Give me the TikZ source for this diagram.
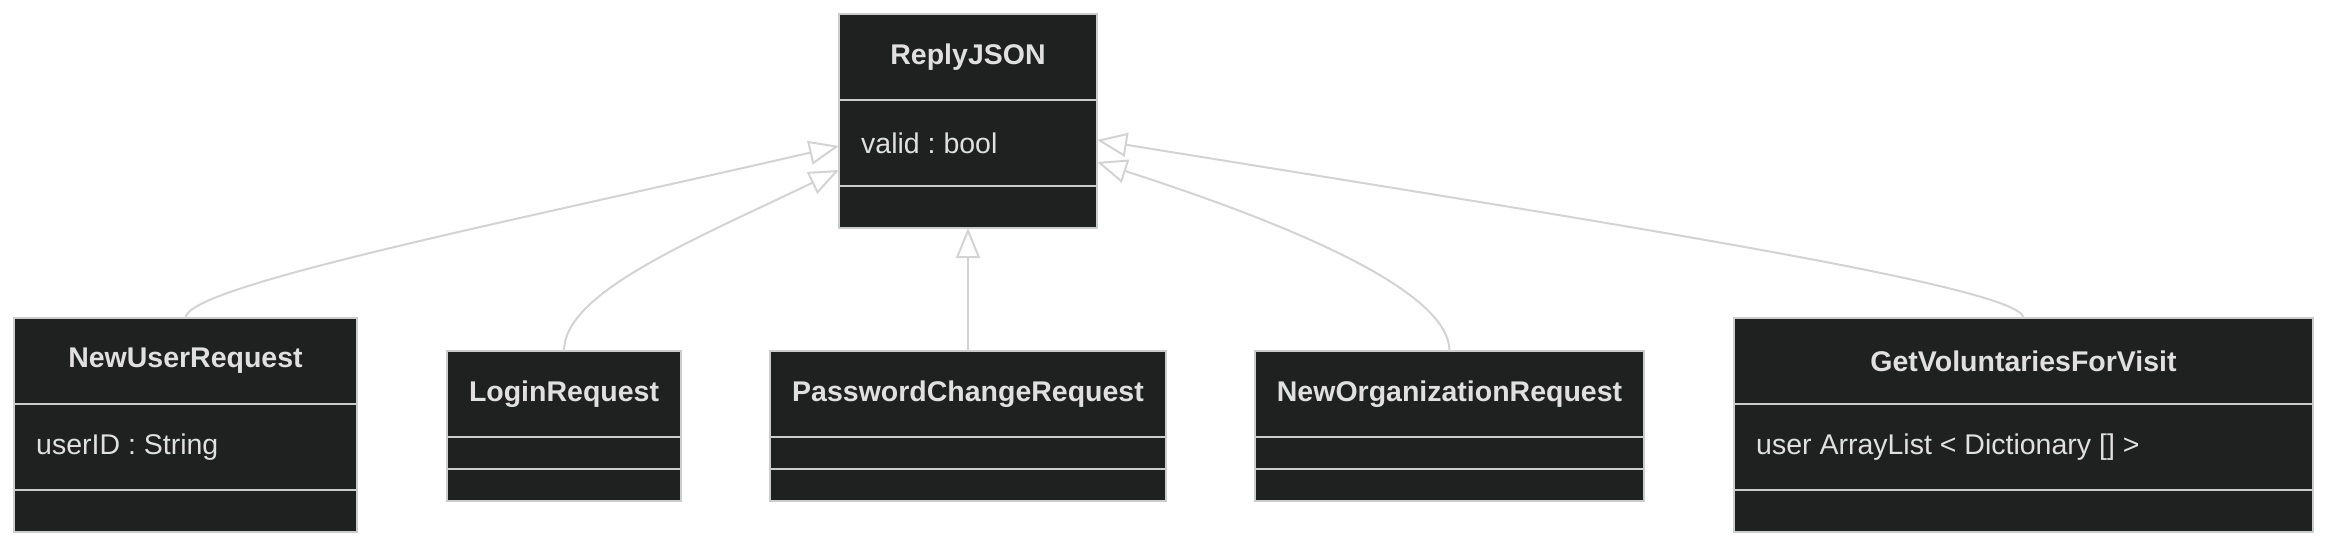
\documentclass[tikz,border=0pt]{standalone}
\usepackage{fontspec}
\setmainfont{Liberation Sans}
\usepackage{xcolor}
\definecolor{umlfill}{HTML}{1F2020}
\definecolor{umlline}{HTML}{CCCCCC}
\definecolor{umltext}{HTML}{E0E0E0}
\definecolor{edgeline}{HTML}{D3D3D3}
\usetikzlibrary{positioning, arrows.meta}
\frenchspacing

\begin{document}
\begin{tikzpicture}[x=1pt, y=-1pt,
  every node/.style={font=\fontsize{28.5}{34}\selectfont, text=umltext},
  classpart/.style={draw=umlline, fill=umlfill, line width=2pt, outer sep=0pt, inner sep=0pt},
  classhead/.style={classpart, minimum height=86pt, font=\fontsize{28.5}{34}\selectfont\bfseries},
  classattr/.style={classpart, minimum height=86pt},
  classempty/.style={classpart, minimum height=32pt},
  classtail/.style={classpart, minimum height=42pt},
  member/.style={inner sep=0pt, anchor=west},
  inherit/.style={draw=edgeline, line width=2pt, -{Triangle[open, length=30pt, width=24pt]}}]
  \useasboundingbox (0,0) rectangle (2352,555);

  % Parent class
  \node[classhead, minimum width=258pt, anchor=north] (reply) at (968,14) {ReplyJSON};
  \node[classattr, minimum width=258pt, below=0pt of reply] (replyattr) {};
  \node[member, right=22pt of replyattr.west] (replyvalid) {valid : bool};
  \node[classtail, minimum width=258pt, below=0pt of replyattr] (replyops) {};

  % Subclasses
  \node[classhead, minimum width=343pt, anchor=north] (newuser) at (185.5,318) {NewUserRequest};
  \node[classattr, minimum width=343pt, below=0pt of newuser] (newuserattr) {};
  \node[member, right=22pt of newuserattr.west] (newuserid) {userID : String};
  \node[classtail, minimum width=343pt, below=0pt of newuserattr] (newuserops) {};

  \node[classhead, minimum width=234pt, anchor=north] (login) at (564,351) {LoginRequest};
  \node[classempty, minimum width=234pt, below=0pt of login] (loginattr) {};
  \node[classempty, minimum width=234pt, below=0pt of loginattr] (loginops) {};

  \node[classhead, minimum width=396pt, anchor=north] (pwchange) at (968,351) {PasswordChangeRequest};
  \node[classempty, minimum width=396pt, below=0pt of pwchange] (pwchangeattr) {};
  \node[classempty, minimum width=396pt, below=0pt of pwchangeattr] (pwchangeops) {};

  \node[classhead, minimum width=389pt, anchor=north] (neworg) at (1449.5,351) {NewOrganizationRequest};
  \node[classempty, minimum width=389pt, below=0pt of neworg] (neworgattr) {};
  \node[classempty, minimum width=389pt, below=0pt of neworgattr] (neworgops) {};

  \node[classhead, minimum width=579pt, anchor=north] (getvol) at (2023.5,318) {GetVoluntariesForVisit};
  \node[classattr, minimum width=579pt, below=0pt of getvol] (getvolattr) {};
  \node[member, right=22pt of getvolattr.west] (getvoluser) {user ArrayList < Dictionary [] >};
  \node[classtail, minimum width=579pt, below=0pt of getvolattr] (getvolops) {};

  % Inheritance arrows
  \draw[inherit] (newuser.north) .. controls +(0,-32) and +(-330,76) .. ([yshift=-3pt]replyattr.west);
  \draw[inherit] (login.north) .. controls +(0,-58) and +(-150,72) .. ([yshift=-27pt]replyattr.west);
  \draw[inherit] (pwchange.north) -- (replyops.south);
  \draw[inherit] (neworg.north) .. controls +(0,-58) and +(205,66) .. ([yshift=-19pt]replyattr.east);
  \draw[inherit] (getvol.north) .. controls +(0,-32) and +(480,78) .. ([yshift=3pt]replyattr.east);
\end{tikzpicture}
\end{document}
